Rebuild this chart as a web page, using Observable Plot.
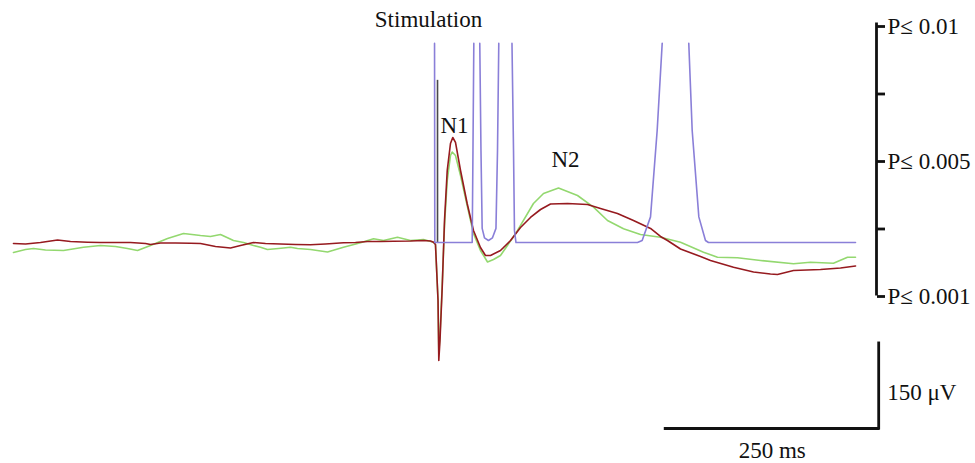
<!DOCTYPE html>
<html><head><meta charset="utf-8">
<script src="https://cdn.jsdelivr.net/npm/d3@7"></script>
<script src="https://cdn.jsdelivr.net/npm/@observablehq/plot@0.6"></script>
<style>
html,body{margin:0;padding:0;background:#fff;}
#chart{position:relative;width:975px;height:463px;overflow:hidden;background:#fff;}
#chart svg{position:absolute;left:0;top:0;}
</style></head><body><div id="chart"></div>
<script>
// ---- Data (time in ms relative to stimulation, amplitude in µV, negative up) ----
const redTime = [-496.5,-482.4,-464.8,-444.8,-429.6,-409.6,-394.4,-376.8,-359.2,-341.5,-335.7,-323.9,-306.3,-288.7,-277,-259.4,-241.8,-230,-214.8,-200.7,-183.1,-165.5,-147.9,-130.3,-109.2,-95.1,-81,-65.7,-50.5,-30.5,-15.3,-7,-3.5,-1.2,1.8,2.7,4.1,6.7,9.4,12.6,16.4,19.1,22.3,28.2,36,43.4,51.6,57.5,63.4,75.1,86.9,98.6,110.3,122.1,133.8,153.8,177.2,192.5,212.4,231.2,251.2,262.9,271.1,286.4,309.9,321.6,348.6,372.1,392,400.2,409.6,419,450.7,474.2,491.8];
const redUv = [1.8,2.6,0,-4.4,-1.8,-0.5,0,0,0,1.8,3.5,0.9,0.9,1.2,1.8,7.1,9.7,5.3,0,1.8,2.6,3.5,4.1,2.6,0.5,0,-1.8,-1.8,-2.3,-2.6,-3.5,-2.6,-0.5,3.5,102.3,208.1,172.8,79.4,-38.8,-127,-174.6,-185.2,-176.4,-127,-68.8,-21.2,8.8,22.9,22.9,14.1,-3.5,-26.5,-44.1,-58.2,-67.9,-68.8,-67,-60,-51.1,-38.8,-24.7,-10.6,-3.5,11.5,24.7,31.7,43.6,52,55.6,56.4,52.9,49.4,47.6,45,41.4];

const greenTime = [-496.5,-482.4,-473,-458.9,-437.8,-414.3,-394.4,-376.8,-362.7,-350.9,-335.7,-315.7,-296.9,-277,-265.3,-253.5,-238.3,-226.5,-214.8,-206.6,-198.4,-185.4,-171.4,-163.1,-147.9,-127.9,-109.2,-89.2,-73.9,-62.2,-45.8,-30.5,-15.3,-3.5,-1.2,1.8,2.7,4.1,6.7,9.4,12.6,16.4,18.4,22.3,28.2,36,43.4,51.6,59.9,66.9,75.1,92.7,113.8,125.6,143.2,165.5,184.3,200.7,219.5,239.4,262.9,286.4,313.4,329.8,353.3,380.3,419,438.9,465.9,482.4,491.8];
const greenUv = [17.6,12.3,10.6,13.2,14.1,8.3,5.3,7.1,10.6,14.1,5.3,-7.1,-15.9,-12.3,-10.6,-14.1,-3.5,0,5.3,8.3,12.3,10.6,8.3,10.6,12.3,16.8,8.3,0.5,-6.5,-3.5,-9.3,-3.5,-5.3,-0.5,3.5,102.3,194,164,75.8,-30,-109.3,-153.4,-159.6,-153.4,-118.2,-65.3,-15.9,14.1,34.4,30,22.9,-15.3,-68.8,-86.4,-96.1,-82.9,-62.3,-38.8,-24.2,-14.1,-9.3,-0.5,17.1,25.9,27,31.7,37.6,34.7,36.5,25.9,25.9];

// significance trace on the P axis (levels 0..4); null = beyond the top of the scale
const sigTime = [-2.3,-2.0,41.9,42.8,43.8,null,50.8,52.2,53.6,56.3,61,65.7,69.8,71.6,73.1,null,88.6,90.4,91.5,93.3,235.9,241.4,251.2,259,264.9,null,296.1,300.1,307.9,315.7,319.2,491.8];
const sigLevel = [3.72,0.77,0.77,2.13,3.72,null,3.72,2.13,0.98,0.84,0.80,0.84,0.98,2.13,3.72,null,3.72,2.13,0.95,0.77,0.77,0.80,1.15,2.43,3.72,null,3.72,2.43,1.15,0.80,0.77,0.77];

const pTickValues = [0, 1, 2, 3, 4];
const pTickLabels = ["P\u2264 0.001", "", "P\u2264 0.005", "", "P\u2264 0.01"];

const stimTime = 1.2;          // ms
const stimArtifactUv = -286;   // µV, top of stimulus marker

const labelText = ["Stimulation", "N1", "N2"];
const labelTime = [-9.4, 21.1, 151.4];
const labelUv = [-393, -206, -147];

const scaleBarMs = 250;
const scaleBarUv = 150;
const scaleBarEndTime = 519;   // ms, corner of the scale bars
const scaleBarEndUv = 328;     // µV, corner of the scale bars

// ---- Layout ----
const W = 975, H = 463;
const originPx = 436, pxPerMs = 0.852;
const baselinePy = 242, pxPerUv = 0.567;
const pAxisPx = 876, pAxisBottomPy = 294, pxPerLevel = 67.5;
const FONT = "'Liberation Serif', 'Times New Roman', serif";
const FS = 23;

const xMain = [-originPx / pxPerMs, (W - originPx) / pxPerMs];
const yMain = [(H - baselinePy) / pxPerUv, -baselinePy / pxPerUv];

const main = Plot.plot({
  width: W, height: H, margin: 0,
  x: {domain: xMain, axis: null},
  y: {domain: yMain, axis: null},
  style: {fontFamily: FONT, background: "white"},
  marks: [
    Plot.line(greenTime, {x: greenTime, y: greenUv, stroke: "#93d86f", strokeWidth: 1.6}),
    Plot.line(redTime, {x: redTime, y: redUv, stroke: "#961a1f", strokeWidth: 1.6}),
    Plot.ruleX([stimTime], {y1: 0, y2: stimArtifactUv, stroke: "#4a4a4a", strokeWidth: 1.6}),
    Plot.ruleY([scaleBarEndUv], {x1: scaleBarEndTime - scaleBarMs, x2: scaleBarEndTime, stroke: "#111", strokeWidth: 2.8, strokeLinecap: "square"}),
    Plot.ruleX([scaleBarEndTime], {y1: scaleBarEndUv - scaleBarUv, y2: scaleBarEndUv, stroke: "#111", strokeWidth: 2.8, strokeLinecap: "square"}),
    Plot.text(labelText, {x: labelTime, y: labelUv, text: d => d, fontSize: FS, fill: "#111", lineAnchor: "middle"}),
    Plot.text([scaleBarMs + " ms"], {x: scaleBarEndTime - scaleBarMs / 2, y: scaleBarEndUv + 39, text: d => d, fontSize: FS, fill: "#111", lineAnchor: "middle"}),
    Plot.text([scaleBarUv + " \u03bcV"], {x: scaleBarEndTime + 10, y: scaleBarEndUv - scaleBarUv / 2 + 11, text: d => d, fontSize: FS, fill: "#111", textAnchor: "start", lineAnchor: "middle"})
  ]
});

const xSig = [-originPx / pxPerMs, (pAxisPx - originPx) / pxPerMs];
const ySig = [(pAxisBottomPy - H) / pxPerLevel, pAxisBottomPy / pxPerLevel];

const sig = Plot.plot({
  width: W, height: H, marginLeft: 0, marginTop: 0, marginBottom: 0, marginRight: W - pAxisPx,
  x: {domain: xSig, axis: null},
  y: {domain: ySig, axis: null},
  style: {fontFamily: FONT, background: "none"},
  marks: [
    Plot.line(sigTime, {x: sigTime, y: sigLevel, stroke: "#8a7fd8", strokeWidth: 1.6}),
    Plot.ruleX([xSig[1]], {y1: d3.min(pTickValues), y2: d3.max(pTickValues), stroke: "#111", strokeWidth: 2.8, strokeLinecap: "square"}),
    Plot.axisY(pTickValues, {anchor: "right", tickSize: 8, tickPadding: 3, strokeWidth: 2.8, stroke: "#111", fill: "#111",
      fontSize: FS, dy: 2, tickFormat: d => pTickLabels[pTickValues.indexOf(d)]})
  ]
});

const el = document.getElementById("chart");
el.appendChild(main);
el.appendChild(sig);
</script></body></html>
